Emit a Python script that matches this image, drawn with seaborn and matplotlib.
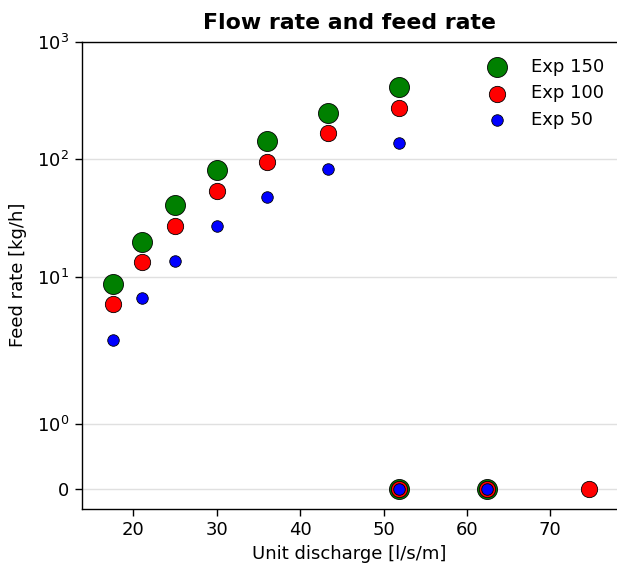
import numpy as np
import pandas as pd
import seaborn as sns
import matplotlib
matplotlib.use("Agg")
import matplotlib.pyplot as plt
from matplotlib.ticker import FixedLocator, NullLocator

# unit discharge [l/s/m] and feed rate [kg/h] per experiment
Discharge150 = [17.5, 21.0, 25.0, 30.0, 36.0, 43.3, 51.9, 51.9, 62.4]
Feed150 = [8.7, 19.7, 41.0, 80.0, 142.0, 247.0, 412.0, 0.0, 0.0]

Discharge100 = [17.5, 21.0, 25.0, 30.0, 36.0, 43.3, 51.9, 51.9, 62.4, 74.7]
Feed100 = [5.8, 13.2, 27.0, 53.0, 94.0, 166.0, 274.0, 0.0, 0.0, 0.0]

Discharge50 = [17.5, 21.0, 25.0, 30.0, 36.0, 43.3, 51.9, 51.9, 62.4]
Feed50 = [2.9, 6.6, 13.7, 26.7, 47.3, 82.6, 137.0, 0.0, 0.0]

YTicks = [0, 1, 10, 100, 1000]
YTickLabels = ["0", "$10^{0}$", "$10^{1}$", "$10^{2}$", "$10^{3}$"]

sns.set_style("white")
plt.rcParams['font.family'] = ['DejaVu Sans']
plt.rcParams['text.color'] = 'black'
plt.rcParams['axes.labelcolor'] = 'black'
plt.rcParams['xtick.color'] = 'black'
plt.rcParams['ytick.color'] = 'black'

fig = plt.figure(figsize=(6.17, 5.63), dpi=100)
ax = fig.add_axes([0.1324, 0.0964, 0.8676, 0.8296])

Series = [
    ("Exp 150", Discharge150, Feed150, "green", 207),
    ("Exp 100", Discharge100, Feed100, "red", 138),
    ("Exp 50", Discharge50, Feed50, "blue", 69),
]
for Name, X, Y, Col, Size in Series:
    df = pd.DataFrame({"Unit discharge": X, "Feed rate": Y})
    sns.scatterplot(data=df, x="Unit discharge", y="Feed rate", color=Col, s=Size,
                    edgecolor="black", linewidth=0.6, label=Name, ax=ax, zorder=3)

ax.set_yscale("symlog", linthresh=2, linscale=1)
ax.set_ylim(-0.3, 1000)
ax.set_xlim(13.8, 78.0)
ax.yaxis.set_major_locator(FixedLocator(YTicks))
ax.yaxis.set_minor_locator(NullLocator())
ax.set_yticklabels(YTickLabels)
ax.set_xticks([20, 30, 40, 50, 60, 70])

ax.grid(axis="y", color="#e0e0e0", linewidth=1)
ax.grid(axis="x", visible=False)
for side in ["left", "bottom", "top"]:
    ax.spines[side].set_visible(True)
    ax.spines[side].set_color("black")
    ax.spines[side].set_linewidth(1)
ax.spines["right"].set_visible(False)
ax.tick_params(axis="both", which="major", direction="out", length=5, width=1,
               labelsize=13, left=True, bottom=True, top=False, right=False,
               colors="black", pad=4)

ax.set_xlabel("Unit discharge [l/s/m]", fontsize=13, labelpad=4)
ax.set_ylabel("Feed rate [kg/h]", fontsize=13, labelpad=7)
ax.set_title("Flow rate and feed rate", fontsize=15.8, fontweight="bold", pad=9)

ax.legend(loc="upper right", bbox_to_anchor=(0.989, 0.981), borderaxespad=0,
          frameon=False, fontsize=13, scatterpoints=1,
          handletextpad=0.87, labelspacing=0.47)

fig.savefig("out.png", dpi=100)
